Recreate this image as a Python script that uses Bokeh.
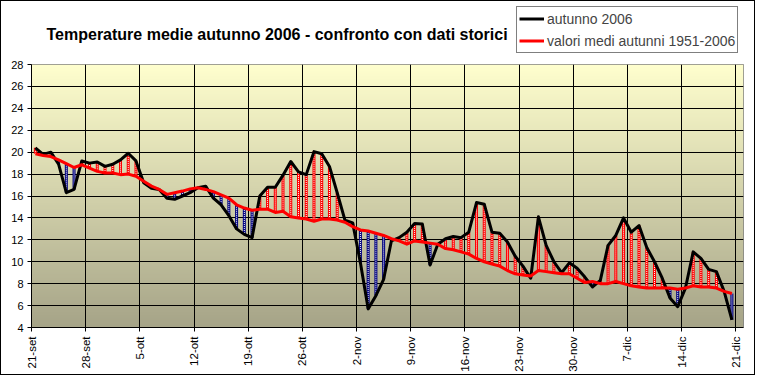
import numpy as np
from math import pi
from bokeh.plotting import figure
from bokeh.layouts import column
from bokeh.models import Range1d, FixedTicker, SingleIntervalTicker, Label, Legend, LegendItem, ColumnDataSource
from bokeh.embed import file_html
from bokeh.resources import INLINE

# ---------------- data ----------------
tick_labels = ["21-set", "28-set", "5-ott", "12-ott", "19-ott", "26-ott", "2-nov",
               "9-nov", "16-nov", "23-nov", "30-nov", "7-dic", "14-dic", "21-dic"]

# daily mean temperature, autumn 2006 (21 Sep .. 20 Dec)
autunno_2006 = [
    20.4, 19.8, 20.0, 18.9, 16.3, 16.6, 19.2, 19.0, 19.1, 18.7,
    18.9, 19.3, 19.9, 19.2, 17.2, 16.7, 16.6, 15.8, 15.7, 16.0,
    16.3, 16.75, 16.9, 15.8, 15.2, 14.2, 13.0, 12.5, 12.2, 16.0,
    16.8, 16.8, 17.9, 19.15, 18.2, 17.95, 20.05, 19.85, 18.7, 16.3,
    13.8, 13.55, 9.9, 5.7, 6.9, 8.4, 11.9, 12.2, 12.7, 13.5,
    13.45, 9.7, 11.6, 12.1, 12.3, 12.2, 12.7, 15.4, 15.25, 12.7,
    12.6, 11.8, 10.5, 9.6, 8.5, 14.1, 11.5, 10.0, 9.0, 9.9,
    9.4, 8.6, 7.7, 8.3, 11.5, 12.4, 14.0, 12.7, 13.3, 11.3,
    10.0, 8.5, 6.7, 5.9, 7.6, 10.9, 10.3, 9.3, 9.1, 7.3,
    4.7,
]

# mean of the same days, autumns 1951-2006
media_1951_2006 = [
    19.85, 19.7, 19.6, 19.3, 18.95, 18.6, 18.85, 18.55, 18.25, 18.1,
    18.1, 17.95, 18.0, 17.8, 17.35, 16.9, 16.6, 16.15, 16.3, 16.45,
    16.65, 16.75, 16.6, 16.4, 16.1, 15.8, 15.2, 14.9, 14.7, 14.8,
    14.8, 14.5, 14.6, 14.1, 14.0, 13.9, 13.7, 13.9, 13.9, 13.8,
    13.6, 13.2, 12.9, 12.8, 12.6, 12.4, 12.1, 11.9, 11.6, 11.9,
    11.8, 11.7, 11.6, 11.2, 11.1, 10.9, 10.7, 10.3, 10.0, 9.8,
    9.6, 9.2, 8.9, 8.8, 8.7, 9.2, 9.1, 9.0, 8.9, 8.9,
    8.5, 8.1, 8.2, 8.0, 8.0, 8.2, 8.0, 7.8, 7.7, 7.6,
    7.6, 7.6, 7.6, 7.5, 7.6, 7.8, 7.7, 7.7, 7.6, 7.3,
    7.1,
]

series_names = ["autunno 2006", "valori medi autunni 1951-2006"]
series_colors = ["black", "#FF0000"]
title_text = "Temperature medie autunno 2006 - confronto con dati storici"

W, H_HEAD, H_MAIN = 753, 56, 317
FONT = "Liberation Sans"

# ---------------- header (title + legend) ----------------
head = figure(width=W, height=H_HEAD, output_backend="svg", toolbar_location=None,
              x_range=Range1d(0, W), y_range=Range1d(H_HEAD, 0),
              x_axis_type=None, y_axis_type=None,
              min_border_left=0, min_border_right=0, min_border_top=0, min_border_bottom=0)
head.frame_align = False
head.outline_line_color = None
head.border_fill_color = "white"
head.background_fill_color = "white"
head.add_layout(Label(x=45, y=33, text=title_text, text_baseline="alphabetic",
                      text_font=FONT, text_font_style="bold", text_font_size="16px",
                      text_color="black"))
# legend keys (no visible marks in the header itself)
leg_renderers = [head.line(x=[np.nan], y=[np.nan], line_color=c, line_width=3) for c in series_colors]
legend = Legend(items=[LegendItem(label=nm, renderers=[r]) for nm, r in zip(series_names, leg_renderers)],
                location=(515, 4))
legend.border_line_color = "black"
legend.border_line_width = 1
legend.background_fill_color = "white"
legend.background_fill_alpha = 1
legend.label_text_font = FONT
legend.label_text_font_size = "14px"
legend.label_standoff = 3
legend.glyph_width = 25
legend.glyph_height = 19
legend.label_height = 19
legend.spacing = 3
legend.padding = 2
legend.margin = 0
head.add_layout(legend, "center")

# ---------------- main chart ----------------
n = len(autunno_2006)
day_pos = np.arange(n) + 0.5          # each day is centred in its slot
n_slots = n + 1
tick_pos = [7 * k for k in range(len(tick_labels))]

p = figure(width=W, height=H_MAIN, output_backend="svg", toolbar_location=None,
           x_range=Range1d(0, n_slots), y_range=Range1d(4, 28),
           min_border_left=30, min_border_right=11, min_border_top=7, min_border_bottom=44)
p.frame_align = False
p.border_fill_color = "white"
p.outline_line_color = "#808080"

# gradient plot-area background
rows = 240
top = np.array([255, 255, 206], dtype=float)
bot = np.array([166, 164, 136], dtype=float)
t = np.linspace(0, 1, rows)[:, None]
cols = bot + (top - bot) * t
img = np.empty((rows, 1), dtype=np.uint32)
view = img.view(dtype=np.uint8).reshape((rows, 1, 4))
view[:, 0, 0:3] = cols.astype(np.uint8)
view[:, 0, 3] = 255
p.image_rgba(image=[img], x=0, y=4, dw=n_slots, dh=24, level="image")

p.xgrid.ticker = FixedTicker(ticks=tick_pos)
p.ygrid.ticker = SingleIntervalTicker(interval=2)
for g in (p.xgrid, p.ygrid):
    g.grid_line_color = "black"

p.xaxis.ticker = FixedTicker(ticks=tick_pos)
p.xaxis.major_label_overrides = {tp: lab for tp, lab in zip(tick_pos, tick_labels)}
p.xaxis.major_label_orientation = pi / 2
p.yaxis.ticker = SingleIntervalTicker(interval=2)
for ax in (p.xaxis[0], p.yaxis[0]):
    ax.axis_line_color = "black"
    ax.major_tick_line_color = "black"
    ax.major_tick_out = 4
    ax.major_tick_in = 0
    ax.minor_tick_line_color = None
    ax.major_label_text_font = FONT
    ax.major_label_text_color = "black"
p.xaxis.major_label_text_font_size = "11.5px"
p.yaxis.major_label_text_font_size = "11px"
p.xaxis.major_label_standoff = 5
p.yaxis.major_label_standoff = 4

# difference hatching between the two curves
above = [a >= m for a, m in zip(autunno_2006, media_1951_2006)]
hatch_src = ColumnDataSource(dict(
    x=day_pos, y0=media_1951_2006, y1=autunno_2006,
    c=["#FF0000" if a else "#000080" for a in above]))
p.segment(x0="x", y0="y0", x1="x", y1="y1", source=hatch_src, line_color="c", line_width=3)
p.segment(x0="x", y0="y0", x1="x", y1="y1", source=hatch_src, line_color="white",
          line_width=1, line_dash="1 1")

p.line(day_pos, autunno_2006, line_color=series_colors[0], line_width=3, line_join="round")
p.line(day_pos, media_1951_2006, line_color=series_colors[1], line_width=3, line_join="round")

layout = column(head, p, spacing=0, styles={"border": "1px solid black", "box-sizing": "border-box"})

open("out.html", "w").write(file_html(layout, INLINE))
